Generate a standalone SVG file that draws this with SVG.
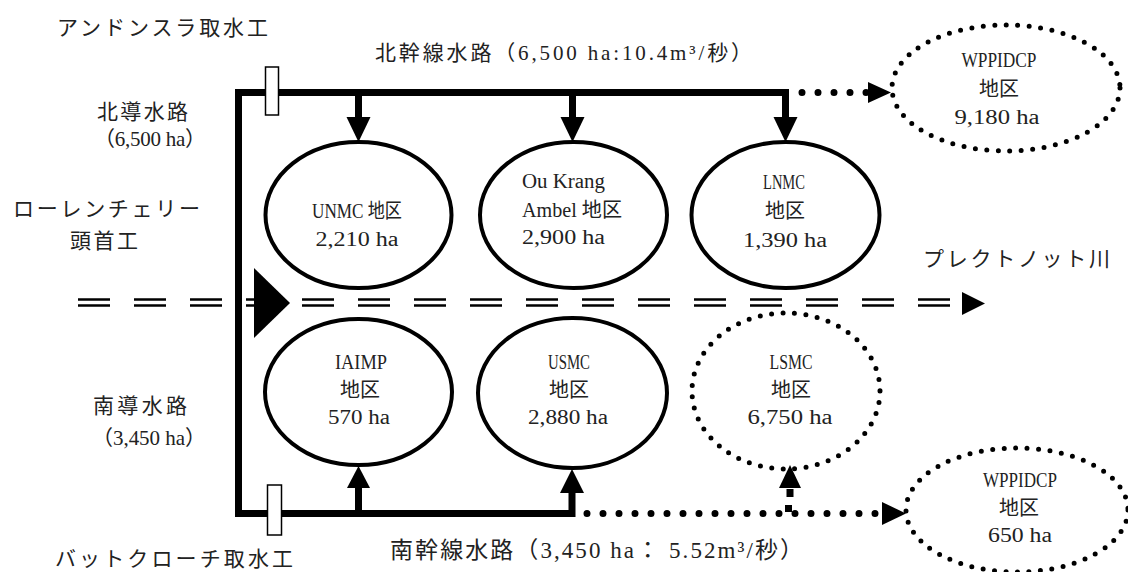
<svg xmlns="http://www.w3.org/2000/svg" width="1128" height="572" viewBox="0 0 1128 572">
<style>
.t{font-family:"Liberation Serif","Noto Sans CJK JP",serif;fill:#222;}
.lbl{font-size:21px;}
.big{font-size:23px;}
.e{font-size:20px;text-anchor:middle;}
.es{font-size:20px;}
.solid{fill:#fff;stroke:#000;stroke-width:4;}
.dot{fill:none;stroke:#000;stroke-width:5;stroke-linecap:round;stroke-dasharray:0 11.5;}
.ch{fill:none;stroke:#000;stroke-width:7;stroke-linejoin:miter;}
.dl{fill:none;stroke:#000;stroke-width:7;stroke-linecap:round;stroke-dasharray:0 16;}
.riv{fill:none;stroke:#000;stroke-width:2.5;stroke-dasharray:32 24;}
.gate{fill:#fff;stroke:#000;stroke-width:1.5;}
</style>
<rect width="1128" height="572" fill="#fff"/>

<g id="connectors">
  <path class="riv" d="M78,299.5 H950 M78,305.5 H950"/>
  <polygon points="962,292 962,315 985,303.5"/>
  <path class="ch" d="M789,92.5 H238.5 V513.5 H572 V492"/>
  <path class="ch" d="M358.5,92 V119 M572.5,92 V119 M785.5,92 V119 M358.5,513 V487"/>
  <polygon points="346.5,117 370.5,117 358.5,142"/>
  <polygon points="560.5,117 584.5,117 572.5,142"/>
  <polygon points="773.5,117 797.5,117 785.5,142"/>
  <polygon points="347,488 370,488 358.5,466"/>
  <polygon points="560,493 584,493 572,469"/>
  <path class="dl" d="M802,92.5 H867"/>
  <polygon points="868,82 868,103 891,92.5"/>
  <path class="dl" d="M587,513.5 H876"/>
  <polygon points="882,502 882,525 906,513.5"/>
  <rect x="786.5" y="489" width="7" height="8"/>
  <rect x="785" y="505" width="7" height="7"/>
  <polygon points="779,488 801,488 790,465"/>
  <polygon points="254,268 290,303 254,338"/>
  <rect class="gate" x="265.5" y="67" width="13" height="48"/>
  <rect class="gate" x="267.5" y="485" width="14" height="50"/>
</g>

<g id="unmc">
  <ellipse class="solid" cx="358.5" cy="215" rx="93" ry="73"/>
  <text class="t e" x="357" y="218" textLength="90" lengthAdjust="spacingAndGlyphs">UNMC 地区</text>
  <text class="t e" x="357" y="246" textLength="83" lengthAdjust="spacingAndGlyphs">2,210 ha</text>
</g>
<g id="oukrang">
  <ellipse class="solid" cx="573.5" cy="215" rx="93.5" ry="73"/>
  <text class="t es" x="522" y="188" textLength="83" lengthAdjust="spacingAndGlyphs">Ou Krang</text>
  <text class="t es" x="522" y="217" textLength="100" lengthAdjust="spacingAndGlyphs">Ambel 地区</text>
  <text class="t es" x="522" y="244" textLength="83" lengthAdjust="spacingAndGlyphs">2,900 ha</text>
</g>
<g id="lnmc">
  <ellipse class="solid" cx="785.5" cy="215" rx="94" ry="73"/>
  <text class="t e" x="784" y="189" textLength="42" lengthAdjust="spacingAndGlyphs">LNMC</text>
  <text class="t e" x="785" y="218">地区</text>
  <text class="t e" x="785" y="247" textLength="84" lengthAdjust="spacingAndGlyphs">1,390 ha</text>
</g>
<g id="iaimp">
  <ellipse class="solid" cx="358.5" cy="392" rx="93.5" ry="73"/>
  <text class="t e" x="361" y="369" textLength="52" lengthAdjust="spacingAndGlyphs">IAIMP</text>
  <text class="t e" x="360" y="397">地区</text>
  <text class="t e" x="359" y="424" textLength="62" lengthAdjust="spacingAndGlyphs">570 ha</text>
</g>
<g id="usmc">
  <ellipse class="solid" cx="572.5" cy="393" rx="94.5" ry="75"/>
  <text class="t e" x="569" y="369" textLength="42" lengthAdjust="spacingAndGlyphs">USMC</text>
  <text class="t e" x="569" y="397">地区</text>
  <text class="t e" x="568" y="424" textLength="80" lengthAdjust="spacingAndGlyphs">2,880 ha</text>
</g>
<g id="lsmc">
  <ellipse class="dot" cx="786" cy="391" rx="94" ry="78"/>
  <text class="t e" x="791" y="369" textLength="43" lengthAdjust="spacingAndGlyphs">LSMC</text>
  <text class="t e" x="791" y="397">地区</text>
  <text class="t e" x="790" y="424" textLength="85" lengthAdjust="spacingAndGlyphs">6,750 ha</text>
</g>
<g id="wppidcp-north">
  <ellipse class="dot" cx="1006" cy="88" rx="114" ry="63"/>
  <text class="t e" x="999" y="67" textLength="75" lengthAdjust="spacingAndGlyphs">WPPIDCP</text>
  <text class="t e" x="999" y="96">地区</text>
  <text class="t e" x="997" y="124" textLength="85" lengthAdjust="spacingAndGlyphs">9,180 ha</text>
</g>
<g id="wppidcp-south">
  <ellipse class="dot" cx="1017" cy="510" rx="111" ry="62"/>
  <text class="t e" x="1020" y="487" textLength="74" lengthAdjust="spacingAndGlyphs">WPPIDCP</text>
  <text class="t e" x="1019" y="515">地区</text>
  <text class="t e" x="1020" y="542" textLength="64" lengthAdjust="spacingAndGlyphs">650 ha</text>
</g>

<g id="labels">
  <text class="t lbl" x="57" y="35" textLength="211" lengthAdjust="spacing">アンドンスラ取水工</text>
  <text class="t lbl" x="375" y="60" textLength="377" lengthAdjust="spacing">北幹線水路（6,500 ha:10.4m³/秒）</text>
  <text class="t lbl" x="97" y="119" textLength="91" lengthAdjust="spacing">北導水路</text>
  <text class="t lbl" x="94" y="146" textLength="112" lengthAdjust="spacing">（6,500 ha）</text>
  <text class="t lbl" x="13" y="216" textLength="187" lengthAdjust="spacing">ローレンチェリー</text>
  <text class="t lbl" x="70" y="248" textLength="68" lengthAdjust="spacing">頭首工</text>
  <text class="t lbl" x="923" y="266" textLength="187" lengthAdjust="spacing">プレクトノット川</text>
  <text class="t lbl" x="93" y="413" textLength="94" lengthAdjust="spacing">南導水路</text>
  <text class="t lbl" x="92" y="445" textLength="114" lengthAdjust="spacing">（3,450 ha）</text>
  <text class="t lbl" x="55" y="566" textLength="238" lengthAdjust="spacing">バットクローチ取水工</text>
  <text class="t big" x="390" y="558" textLength="413" lengthAdjust="spacing">南幹線水路（3,450 ha： 5.52m³/秒）</text>
</g>
</svg>
